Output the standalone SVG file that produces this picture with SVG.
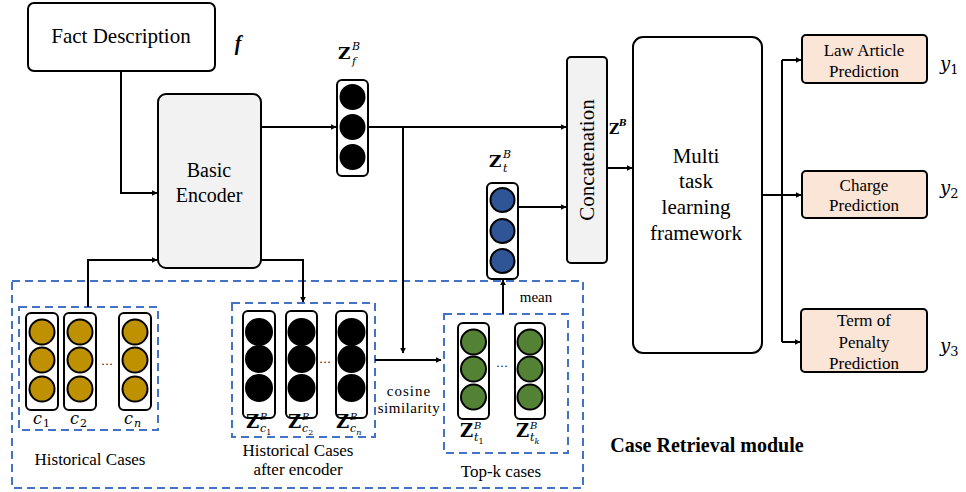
<svg xmlns="http://www.w3.org/2000/svg" width="966" height="492" viewBox="0 0 966 492">
<style>
.box{fill:#fff;stroke:#000;stroke-width:2}
.grey{fill:#f2f2f2;stroke:#000;stroke-width:2}
.pred{fill:#fbe5d6;stroke:#000;stroke-width:2}
.vec{fill:#fff;stroke:#000;stroke-width:2}
.dash{fill:none;stroke:#4472c4;stroke-width:2;stroke-dasharray:8,5}
.t{font-family:'Liberation Serif','DejaVu Serif',serif;fill:#000;text-anchor:middle}
.m{font-family:'DejaVu Serif','Liberation Serif',serif;fill:#000}
.ln{fill:none;stroke:#000;stroke-width:2}
.ch{fill:#bf9000;stroke:#000;stroke-width:2}
.bk{fill:#000;stroke:#000;stroke-width:2}
.bl{fill:#2f5597;stroke:#000;stroke-width:2}
.gr{fill:#548235;stroke:#000;stroke-width:2}
</style>
<defs>
<marker id="ah" viewBox="0 0 10 10" refX="9" refY="5" markerWidth="6" markerHeight="6" orient="auto" markerUnits="userSpaceOnUse">
<path d="M0,0 L10,5 L0,10 z" fill="#000"/>
</marker>
</defs>

<g id="case-retrieval-module">
<rect class="dash" x="12" y="281" width="571" height="207"/>
<text class="t" x="707" y="452" font-size="20" font-weight="bold">Case Retrieval module</text>
</g>

<g id="fact-description">
<rect class="box" x="28" y="3" width="187" height="68" rx="6"/>
<text class="t" x="121" y="43" font-size="21">Fact Description</text>
<text class="t" x="238" y="50" font-size="20" font-weight="bold" font-style="italic">f</text>
</g>

<g id="basic-encoder">
<rect class="grey" x="158" y="94" width="103" height="174" rx="8"/>
<text class="t" x="209" y="177" font-size="20">Basic</text>
<text class="t" x="209" y="202" font-size="20">Encoder</text>
</g>

<g id="zf-vector">
<rect class="vec" x="337" y="80" width="31" height="96" rx="5"/>
<circle class="bk" cx="352.5" cy="97" r="12"/>
<circle class="bk" cx="352.5" cy="127" r="12"/>
<circle class="bk" cx="352.5" cy="157" r="12"/>
<text class="m" x="338" y="59" font-size="17" font-weight="bold">Z</text>
<text class="m" x="352" y="50" font-size="11" font-style="italic">B</text>
<text class="m" x="352" y="65" font-size="11" font-style="italic">f</text>
</g>

<g id="zt-vector">
<rect class="vec" x="487" y="183" width="31" height="96" rx="5"/>
<circle class="bl" cx="502.5" cy="200" r="12"/>
<circle class="bl" cx="502.5" cy="231" r="12"/>
<circle class="bl" cx="502.5" cy="261" r="12"/>
<text class="m" x="489" y="167" font-size="17" font-weight="bold">Z</text>
<text class="m" x="503" y="158" font-size="11" font-style="italic">B</text>
<text class="m" x="503" y="172" font-size="11" font-style="italic">t</text>
</g>

<g id="concatenation">
<rect class="grey" x="567" y="57" width="40" height="206" rx="4"/>
<text class="t" x="0" y="0" font-size="21" transform="translate(594,160) rotate(-90)">Concatenation</text>
<text class="m" x="609" y="134" font-size="14" font-weight="bold">Z</text>
<text class="m" x="619" y="126" font-size="9" font-weight="bold" font-style="italic">B</text>
</g>

<g id="multi-task">
<rect class="box" x="633" y="37" width="129" height="316" rx="10"/>
<text class="t" x="696" y="163" font-size="21">Multi</text>
<text class="t" x="696" y="188" font-size="21">task</text>
<text class="t" x="696" y="214" font-size="21">learning</text>
<text class="t" x="696" y="240" font-size="21">framework</text>
</g>

<g id="law-article">
<rect class="pred" x="802" y="35" width="125" height="48" rx="4"/>
<text class="t" x="864" y="56" font-size="17">Law Article</text>
<text class="t" x="864" y="77" font-size="17">Prediction</text>
<text class="m" x="940" y="70" font-size="18" font-style="italic">y<tspan font-size="13" font-style="normal" dy="4">1</tspan></text>
</g>

<g id="charge">
<rect class="pred" x="802" y="171" width="125" height="47" rx="4"/>
<text class="t" x="864" y="191" font-size="17">Charge</text>
<text class="t" x="864" y="211" font-size="17">Prediction</text>
<text class="m" x="940" y="194" font-size="18" font-style="italic">y<tspan font-size="13" font-style="normal" dy="4">2</tspan></text>
</g>

<g id="term-of-penalty">
<rect class="pred" x="801" y="309" width="126" height="63" rx="4"/>
<text class="t" x="864" y="326" font-size="17">Term of</text>
<text class="t" x="864" y="348" font-size="17">Penalty</text>
<text class="t" x="864" y="369" font-size="17">Prediction</text>
<text class="m" x="940" y="352" font-size="18" font-style="italic">y<tspan font-size="13" font-style="normal" dy="4">3</tspan></text>
</g>

<g id="historical-cases">
<rect class="dash" x="19" y="307" width="139" height="123"/>
<rect class="vec" x="26" y="313" width="32" height="97" rx="5"/>
<circle class="ch" cx="42" cy="332" r="12.5"/>
<circle class="ch" cx="42" cy="360" r="12.5"/>
<circle class="ch" cx="42" cy="389" r="12.5"/>
<rect class="vec" x="64" y="313" width="32" height="97" rx="5"/>
<circle class="ch" cx="80" cy="332" r="12.5"/>
<circle class="ch" cx="80" cy="360" r="12.5"/>
<circle class="ch" cx="80" cy="389" r="12.5"/>
<text class="t" x="107" y="368" font-size="12">···</text>
<rect class="vec" x="119" y="313" width="32" height="97" rx="5"/>
<circle class="ch" cx="135" cy="332" r="12.5"/>
<circle class="ch" cx="135" cy="360" r="12.5"/>
<circle class="ch" cx="135" cy="389" r="12.5"/>
<text class="m" x="33" y="424" font-size="16" font-style="italic">c<tspan font-size="11" font-style="normal" dy="3" dx="1">1</tspan></text>
<text class="m" x="70" y="424" font-size="16" font-style="italic">c<tspan font-size="11" font-style="normal" dy="3" dx="1">2</tspan></text>
<text class="m" x="124" y="424" font-size="16" font-style="italic">c<tspan font-size="11" dy="3" dx="1">n</tspan></text>
<text class="t" x="90" y="465" font-size="17">Historical Cases</text>
</g>

<g id="historical-after-encoder">
<rect class="dash" x="232" y="303" width="143" height="134"/>
<rect class="vec" x="243" y="311" width="32" height="107" rx="5"/>
<circle class="bk" cx="259" cy="332" r="13"/>
<circle class="bk" cx="259" cy="359" r="13"/>
<circle class="bk" cx="259" cy="388" r="13"/>
<rect class="vec" x="286" y="311" width="31" height="107" rx="5"/>
<circle class="bk" cx="301.5" cy="332" r="13"/>
<circle class="bk" cx="301.5" cy="359" r="13"/>
<circle class="bk" cx="301.5" cy="388" r="13"/>
<text class="t" x="325" y="366" font-size="12">···</text>
<rect class="vec" x="336" y="311" width="31" height="107" rx="5"/>
<circle class="bk" cx="351.5" cy="332" r="13"/>
<circle class="bk" cx="351.5" cy="359" r="13"/>
<circle class="bk" cx="351.5" cy="388" r="13"/>
<text class="m" x="246" y="428" font-size="18" font-weight="bold">Z</text>
<text class="m" x="260" y="420" font-size="10" font-style="italic">B</text>
<text class="m" x="260" y="432" font-size="11" font-style="italic">c<tspan font-size="8" font-style="normal" dy="3">1</tspan></text>
<text class="m" x="288" y="428" font-size="18" font-weight="bold">Z</text>
<text class="m" x="302" y="420" font-size="10" font-style="italic">B</text>
<text class="m" x="302" y="432" font-size="11" font-style="italic">c<tspan font-size="8" font-style="normal" dy="3">2</tspan></text>
<text class="m" x="336" y="428" font-size="18" font-weight="bold">Z</text>
<text class="m" x="350" y="420" font-size="10" font-style="italic">B</text>
<text class="m" x="350" y="432" font-size="11" font-style="italic">c<tspan font-size="8" dy="3">n</tspan></text>
<text class="t" x="298" y="456" font-size="17">Historical Cases</text>
<text class="t" x="298" y="475" font-size="17">after encoder</text>
</g>

<g id="top-k-cases">
<rect class="dash" x="444" y="314" width="124" height="139"/>
<rect class="vec" x="458" y="323" width="31" height="96" rx="5"/>
<circle class="gr" cx="473.5" cy="342" r="12.5"/>
<circle class="gr" cx="473.5" cy="369" r="12.5"/>
<circle class="gr" cx="473.5" cy="397" r="12.5"/>
<text class="t" x="502" y="370" font-size="12">···</text>
<rect class="vec" x="515" y="323" width="30" height="96" rx="5"/>
<circle class="gr" cx="530" cy="342" r="12.5"/>
<circle class="gr" cx="530" cy="369" r="12.5"/>
<circle class="gr" cx="530" cy="397" r="12.5"/>
<text class="m" x="460" y="437" font-size="18" font-weight="bold">Z</text>
<text class="m" x="474" y="429" font-size="10" font-style="italic">B</text>
<text class="m" x="474" y="441" font-size="11" font-style="italic">t<tspan font-size="8" font-style="normal" dy="3">1</tspan></text>
<text class="m" x="516" y="437" font-size="18" font-weight="bold">Z</text>
<text class="m" x="530" y="429" font-size="10" font-style="italic">B</text>
<text class="m" x="530" y="441" font-size="11" font-style="italic">t<tspan font-size="8" dy="3">k</tspan></text>
<text class="t" x="501" y="477" font-size="17">Top-k cases</text>
</g>

<g id="connectors">
<path class="ln" d="M121,71 V193 H157" marker-end="url(#ah)"/>
<path class="ln" d="M261,127 H336" marker-end="url(#ah)"/>
<path class="ln" d="M368,127 H566" marker-end="url(#ah)"/>
<path class="ln" d="M403,127 V353" marker-end="url(#ah)"/>
<path class="ln" d="M518,207 H566" marker-end="url(#ah)"/>
<path class="ln" d="M607,168 H632" marker-end="url(#ah)"/>
<path class="ln" d="M762,195 H782"/>
<path class="ln" d="M782,60 V342"/>
<path class="ln" d="M782,60 H801" marker-end="url(#ah)"/>
<path class="ln" d="M782,195 H801" marker-end="url(#ah)"/>
<path class="ln" d="M782,342 H800" marker-end="url(#ah)"/>
<path class="ln" d="M88,307 V260 H157" marker-end="url(#ah)"/>
<path class="ln" d="M261,260 H303 V302" marker-end="url(#ah)"/>
<path class="ln" d="M375,360 H441" marker-end="url(#ah)"/>
<path class="ln" d="M503,314 V280" marker-end="url(#ah)"/>
<text class="t" x="409" y="396" font-size="15" letter-spacing="1">cosine</text>
<text class="t" x="409" y="413" font-size="15" letter-spacing="0.5">similarity</text>
<text class="t" x="536" y="302" font-size="15">mean</text>
</g>
</svg>
